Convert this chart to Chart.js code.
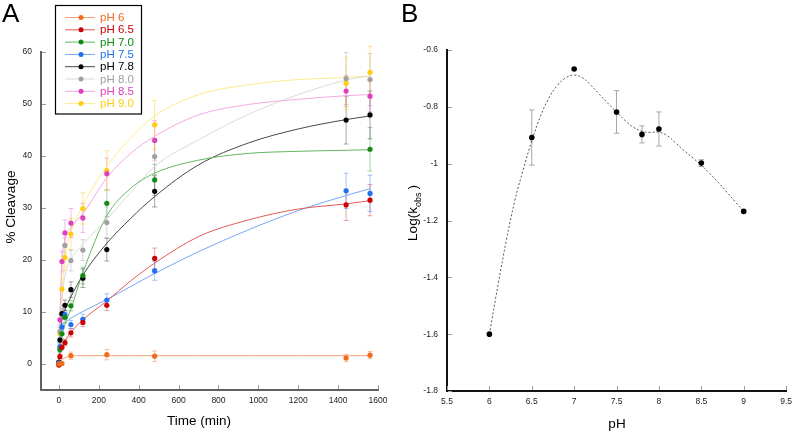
<!DOCTYPE html>
<html><head><meta charset="utf-8">
<script src="https://cdn.jsdelivr.net/npm/chart.js@4.4.1/dist/chart.umd.min.js"></script>
<style>
html,body{margin:0;padding:0;background:#fff;}
#wrap{position:relative;width:798px;height:434px;overflow:hidden;background:#fff;}
#ca{position:absolute;left:0;top:0;}
#cb{position:absolute;left:400px;top:0;}
</style></head><body>
<div id="wrap"><canvas id="ca" width="400" height="434"></canvas><canvas id="cb" width="398" height="434"></canvas></div>
<script>
// ---------- Panel A data ----------
const timePoints = [0, 5, 15, 30, 60, 120, 240, 480, 1440, 1560];
const seriesNames = ['pH 6', 'pH 6.5', 'pH 7.0', 'pH 7.5', 'pH 7.8', 'pH 8.0', 'pH 8.5', 'pH 9.0'];
const cleavage_pH6_0 = [0, 0.1, 0.1, null, 1.6, null, 1.8, 1.5, 1.15, 1.7];
const cleavage_pH6_5 = [-0.2, 1.4, 3.2, 4.1, 6.0, 8.0, 11.3, 20.3, 30.6, 31.5];
const cleavage_pH7_0 = [0, 2.8, 5.8, 9.0, 11.2, 17.0, 30.9, 35.4, null, 41.3];
const cleavage_pH7_5 = [0.2, 3.3, 7.1, 9.5, 7.6, 8.6, 12.3, 17.9, 33.3, 32.8];
const cleavage_pH7_8 = [0.3, 4.6, 9.7, 11.3, 14.3, 16.5, 22.0, 33.2, 46.9, 47.9];
const cleavage_pH8_0 = [0.3, 6.3, 9.5, 22.8, 19.9, 21.9, 27.2, 39.9, 54.9, 54.7];
const cleavage_pH8_5 = [0.3, 8.5, 19.7, 25.2, 27.1, 28.1, 36.6, 43.0, 52.5, 51.5];
const cleavage_pH9_0 = [0.1, 5.9, 14.4, 20.5, 25.0, 29.9, 37.2, 46.0, 54.0, 56.1];

const err_pH6_0 = [0.2, 0.3, 0.3, 0.5, 0.7, 0.7, 1.0, 1.0, 0.7, 0.7];
const err_pH6_5 = [0.3, 0.4, 0.5, 0.6, 0.8, 0.8, 1.0, 2.0, 3.0, 3.0];
const err_pH7_0 = [0.3, 0.5, 1.0, 1.0, 1.0, 1.6, 2.5, 3.0, 3.0, 4.2];
const err_pH7_5 = [0.3, 0.5, 0.7, 0.8, 0.8, 1.0, 1.2, 1.8, 3.4, 3.5];
const err_pH7_8 = [0.3, 0.5, 1.0, 1.0, 1.5, 1.8, 2.2, 3.0, 4.6, 4.6];
const err_pH8_0 = [0.3, 0.8, 1.0, 1.5, 2.0, 2.0, 3.0, 3.5, 5.0, 5.0];
const err_pH8_5 = [0.3, 1.0, 2.0, 2.5, 2.8, 2.8, 3.0, 3.8, 3.0, 3.0];
const err_pH9_0 = [0.3, 1.0, 2.0, 2.5, 3.0, 3.0, 3.8, 4.7, 5.0, 5.0];

// fitted curves
const fitTimes = [0, 5, 15, 30, 60, 120, 240, 360, 480, 700, 950, 1200, 1440, 1560];
const fit_pH6_0 = [0, 0.3, 0.8, 1.2, 1.5, 1.6, 1.6, 1.6, 1.6, 1.6, 1.6, 1.6, 1.6, 1.6];
const fit_pH6_5 = [0, 1.5, 3.2, 4.4, 6.1, 8.5, 12.1, 16.0, 19.4, 24.5, 27.7, 29.8, 30.8, 31.4];
const fit_pH7_0 = [0, 3.0, 5.5, 7.6, 10.6, 17.6, 28.5, 33.8, 36.7, 39.2, 40.5, 40.9, 41.1, 41.2];
const fit_pH7_5 = [3.0, 5.0, 7.2, 7.9, 8.8, 10.1, 12.4, 14.9, 17.4, 21.6, 25.8, 29.5, 32.4, 33.7];
const fit_pH7_8 = [0, 4.5, 8.8, 10.4, 12.9, 17.1, 23.2, 28.0, 32.2, 38.3, 42.5, 45.2, 47.0, 47.7];
const fit_pH8_0 = [0, 6.0, 12.0, 17.0, 20.0, 23.0, 27.8, 33.0, 38.0, 43.1, 48.0, 51.8, 54.6, 55.4];
const fit_pH8_5 = [0, 9.0, 19.5, 23.8, 26.2, 28.9, 35.8, 40.5, 43.8, 47.9, 49.9, 50.9, 51.6, 51.8];
const fit_pH9_0 = [0, 6.0, 14.0, 20.5, 25.3, 30.5, 38.0, 43.5, 47.7, 51.8, 53.7, 54.7, 55.1, 55.4];

const xTicksA = [0, 200, 400, 600, 800, 1000, 1200, 1400, 1600];
const yTicksA = [0, 10, 20, 30, 40, 50, 60];

// ---------- Panel B data ----------
const pHValues = [6.0, 6.5, 7.0, 7.5, 7.8, 8.0, 8.5, 9.0];
const logKobs = [-1.60, -0.908, -0.667, -0.818, -0.897, -0.878, -0.998, -1.168];
const logKerr = [0, 0.097, 0, 0.075, 0.03, 0.06, 0.012, 0];
const curvePH = [6.0, 6.1, 6.2, 6.3, 6.4, 6.5, 6.6, 6.7, 6.8, 6.9, 7.0, 7.1, 7.2, 7.3, 7.4, 7.5, 7.6, 7.7, 7.8, 7.9, 8.0, 8.1, 8.2, 8.3, 8.4, 8.5, 8.6, 8.7, 8.8, 8.9, 9.0];
const curveLogK = [-1.60, -1.43, -1.27, -1.13, -1.02, -0.92, -0.835, -0.77, -0.725, -0.698, -0.688, -0.698, -0.725, -0.757, -0.788, -0.818, -0.848, -0.872, -0.886, -0.89, -0.889, -0.902, -0.928, -0.955, -0.98, -1.005, -1.035, -1.066, -1.10, -1.134, -1.168];
const xTicksB = [5.5, 6, 6.5, 7, 7.5, 8, 8.5, 9, 9.5];
const yTicksB = [-1.8, -1.6, -1.4, -1.2, -1, -0.8, -0.6];

// ---------- styles ----------
const FONT = '"Liberation Sans", Arial, Helvetica, sans-serif';
const seriesValues = [cleavage_pH6_0, cleavage_pH6_5, cleavage_pH7_0, cleavage_pH7_5, cleavage_pH7_8, cleavage_pH8_0, cleavage_pH8_5, cleavage_pH9_0];
const seriesErrors = [err_pH6_0, err_pH6_5, err_pH7_0, err_pH7_5, err_pH7_8, err_pH8_0, err_pH8_5, err_pH9_0];
const seriesFits = [fit_pH6_0, fit_pH6_5, fit_pH7_0, fit_pH7_5, fit_pH7_8, fit_pH8_0, fit_pH8_5, fit_pH9_0];
const seriesStyle = [
  {point:'#f26a1b', line:'#f7a272', err:'rgba(242,106,27,0.40)'},
  {point:'#cc0000', line:'#e05a5a', err:'rgba(204,0,0,0.35)'},
  {point:'#138a13', line:'#62b862', err:'rgba(19,138,19,0.35)'},
  {point:'#2070f0', line:'#78a6f7', err:'rgba(32,112,240,0.40)'},
  {point:'#000000', line:'#484848', err:'rgba(0,0,0,0.35)'},
  {point:'#a0a0a0', line:'#dadada', err:'rgba(150,150,150,0.40)'},
  {point:'#e040c0', line:'#f2a8e2', err:'rgba(224,64,192,0.35)'},
  {point:'#ffcc11', line:'#ffe98c', err:'rgba(255,200,17,0.45)'}
];

// ---------- plugins ----------
function inwardTicks(color, len) {
  return {
    id: 'inwardTicks',
    afterDraw(chart) {
      const {ctx, chartArea: ca, scales: {x, y}} = chart;
      ctx.save();
      ctx.strokeStyle = color; ctx.lineWidth = 1;
      x.ticks.forEach(t => {
        const px = Math.round(x.getPixelForValue(t.value)) + 0.5;
        ctx.beginPath(); ctx.moveTo(px, ca.bottom - 1); ctx.lineTo(px, ca.bottom - 1 - len); ctx.stroke();
      });
      y.ticks.forEach(t => {
        const py = Math.round(y.getPixelForValue(t.value)) + 0.5;
        ctx.beginPath(); ctx.moveTo(ca.left + 1, py); ctx.lineTo(ca.left + 1 + len, py); ctx.stroke();
      });
      ctx.restore();
    }
  };
}
function drawErr(ctx, x, y, xv, yv, e, cap) {
  if (!e) return;
  const px = x.getPixelForValue(xv);
  const p1 = y.getPixelForValue(yv + e), p2 = y.getPixelForValue(yv - e);
  ctx.beginPath();
  ctx.moveTo(px, p1); ctx.lineTo(px, p2);
  ctx.moveTo(px - cap, p1); ctx.lineTo(px + cap, p1);
  ctx.moveTo(px - cap, p2); ctx.lineTo(px + cap, p2);
  ctx.stroke();
}
const errorBarsA = {
  id: 'errorBarsA',
  beforeDatasetsDraw(chart) {
    const {ctx, scales: {x, y}} = chart;
    ctx.save(); ctx.lineWidth = 1;
    seriesValues.forEach((vals, i) => {
      ctx.strokeStyle = seriesStyle[i].err;
      vals.forEach((v, j) => { if (v != null) drawErr(ctx, x, y, timePoints[j], v, seriesErrors[i][j], 2.5); });
    });
    ctx.restore();
  }
};
const errorBarsB = {
  id: 'errorBarsB',
  beforeDatasetsDraw(chart) {
    const {ctx, scales: {x, y}} = chart;
    ctx.save(); ctx.lineWidth = 1; ctx.strokeStyle = '#a8a8a8';
    logKobs.forEach((v, j) => drawErr(ctx, x, y, pHValues[j], v, logKerr[j], 2.7));
    ctx.restore();
  }
};
const decorA = {
  id: 'decorA',
  afterDraw(chart) {
    const ctx = chart.ctx;
    ctx.save();
    ctx.fillStyle = '#000';
    ctx.font = '26px ' + FONT; ctx.textAlign = 'left'; ctx.textBaseline = 'alphabetic';
    ctx.fillText('A', 2, 22);
    ctx.font = '13.5px ' + FONT; ctx.textAlign = 'center';
    ctx.fillText('Time (min)', 199, 425);
    ctx.save(); ctx.translate(15, 207); ctx.rotate(-Math.PI / 2);
    ctx.fillText('% Cleavage', 0, 0); ctx.restore();
    // legend
    ctx.lineWidth = 1.2; ctx.strokeStyle = '#000';
    ctx.fillStyle = '#fff';
    ctx.fillRect(55.5, 5.5, 86, 108.5);
    ctx.strokeRect(55.5, 5.5, 86, 108.5);
    ctx.font = '11.5px ' + FONT; ctx.textAlign = 'left'; ctx.textBaseline = 'middle';
    seriesNames.forEach((n, i) => {
      const yy = 17.5 + i * 12.3;
      ctx.strokeStyle = seriesStyle[i].line; ctx.lineWidth = 1;
      ctx.beginPath(); ctx.moveTo(65, yy); ctx.lineTo(95, yy); ctx.stroke();
      ctx.fillStyle = seriesStyle[i].point;
      ctx.beginPath(); ctx.arc(81, yy, 2.5, 0, Math.PI * 2); ctx.fill();
      ctx.fillText(n, 100, yy + 0.5);
    });
    ctx.restore();
  }
};
const decorB = {
  id: 'decorB',
  afterDraw(chart) {
    const ctx = chart.ctx;
    ctx.save();
    ctx.fillStyle = '#000';
    ctx.font = '26px ' + FONT; ctx.textAlign = 'left'; ctx.textBaseline = 'alphabetic';
    ctx.fillText('B', 1, 22);
    ctx.font = '13.5px ' + FONT; ctx.textAlign = 'center';
    ctx.fillText('pH', 217, 428);
    ctx.save(); ctx.translate(17, 213); ctx.rotate(-Math.PI / 2);
    ctx.textAlign = 'left';
    ctx.font = '13.5px ' + FONT;
    const w1 = ctx.measureText('Log(k').width;
    ctx.font = '9px ' + FONT;
    const w2 = ctx.measureText('obs').width;
    ctx.font = '13.5px ' + FONT;
    const w3 = ctx.measureText(')').width;
    const total = w1 + w2 + 3 + w3;
    let sx = -total / 2;
    ctx.fillText('Log(k', sx, 0); sx += w1;
    ctx.font = '9px ' + FONT; ctx.fillText('obs', sx, 4); sx += w2 + 3;
    ctx.font = '13.5px ' + FONT; ctx.fillText(')', sx, 0);
    ctx.restore();
    ctx.restore();
  }
};

// ---------- Chart A ----------
const dsA = [];
seriesValues.forEach((vals, i) => {
  const pts = [];
  vals.forEach((v, j) => { if (v != null) pts.push({x: timePoints[j], y: v}); });
  dsA.push({label: seriesNames[i], data: pts, showLine: false, pointRadius: 2.6, pointBackgroundColor: seriesStyle[i].point, pointBorderWidth: 0, order: 0});
});
seriesFits.forEach((vals, i) => {
  dsA.push({label: seriesNames[i] + ' fit', data: fitTimes.map((t, j) => ({x: t, y: vals[j]})), showLine: true, pointRadius: 0, borderColor: seriesStyle[i].line, borderWidth: 1, cubicInterpolationMode: 'monotone', order: 1});
});

function scaleCommon(ticksArr, min, max, borderColor, pad) {
  return {
    type: 'linear', min: min, max: max,
    grid: {display: false, drawTicks: false},
    border: {display: true, color: borderColor, width: 2},
    afterBuildTicks: s => { s.ticks = ticksArr.map(v => ({value: v})); },
    ticks: {font: {family: FONT, size: 8.5}, color: '#222', padding: pad, autoSkip: false, maxRotation: 0, callback: v => String(v)}
  };
}

const xA = scaleCommon(xTicksA, -90, 1600, '#606060', 6);
xA.afterFit = s => { s.height = 44; };
const yA = scaleCommon(yTicksA, -5, 60, '#606060', 9);
yA.afterFit = s => { s.width = 41; };

new Chart(document.getElementById('ca'), {
  type: 'scatter',
  data: {datasets: dsA},
  options: {
    responsive: false, animation: false, events: [],
    layout: {padding: {left: 0, top: 52, right: 22, bottom: 0}},
    plugins: {legend: {display: false}, tooltip: {enabled: false}},
    scales: {x: xA, y: yA}
  },
  plugins: [errorBarsA, inwardTicks('#9a9a9a', 4), decorA]
});

// ---------- Chart B ----------
const xB = scaleCommon(xTicksB, 5.5, 9.5, '#111', 6);
xB.afterFit = s => { s.height = 43; };
const yB = scaleCommon(yTicksB, -1.8, -0.6, '#111', 9);
yB.afterFit = s => { s.width = 47; };

new Chart(document.getElementById('cb'), {
  type: 'scatter',
  data: {datasets: [
    {label: 'log kobs', data: pHValues.map((p, j) => ({x: p, y: logKobs[j]})), showLine: false, pointRadius: 2.8, pointBackgroundColor: '#000', pointBorderWidth: 0, order: 0},
    {label: 'fit', data: curvePH.map((p, j) => ({x: p, y: curveLogK[j]})), showLine: true, pointRadius: 0, borderColor: '#555', borderWidth: 1, borderDash: [2, 2], tension: 0.4, order: 1}
  ]},
  options: {
    responsive: false, animation: false, events: [],
    layout: {padding: {left: 0, top: 50, right: 9, bottom: 0}},
    plugins: {legend: {display: false}, tooltip: {enabled: false}},
    scales: {x: xB, y: yB}
  },
  plugins: [errorBarsB, inwardTicks('#9a9a9a', 4), decorB]
});
</script>
</body></html>
